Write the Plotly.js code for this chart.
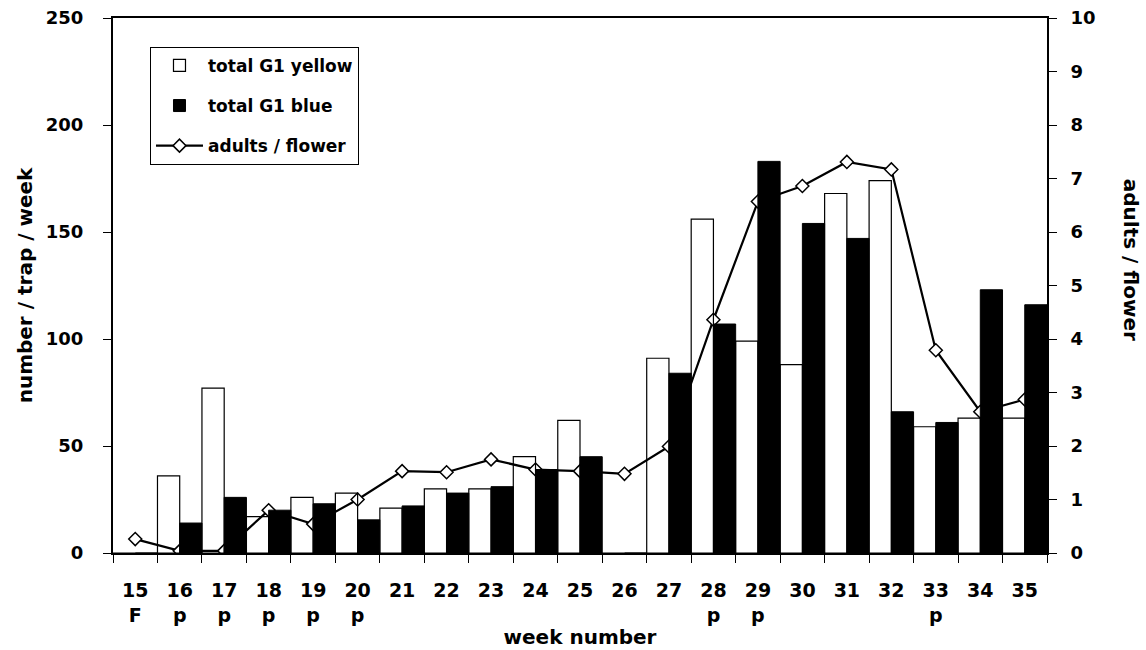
<!DOCTYPE html>
<html>
<head>
<meta charset="utf-8">
<script src="https://cdn.plot.ly/plotly-3.0.1.min.js"></script>
<style>
  html, body { margin: 0; padding: 0; background: #fff; }
  #chart { width: 1146px; height: 650px; }
</style>
</head>
<body>
<div id="chart"></div>
<script>
const weeks = ['15','16','17','18','19','20','21','22','23','24','25','26','27','28','29','30','31','32','33','34','35'];
const weekNotes = ['F','p','p','p','p','p','','','','','','','','p','p','','','','p','',''];
const totalG1Yellow = [0,36,77,17,26,28,21,30,30,45,62,0,91,156,99,88,168,174,59,63,63];
const totalG1Blue = [0,14,26,20,23,15.5,22,28,31,39,45,0,84,107,183,154,147,66,61,123,116];
const adultsPerFlower = [0.26,0.04,0.04,0.80,0.54,1.0,1.53,1.51,1.75,1.56,1.53,1.48,1.99,4.36,6.57,6.86,7.31,7.17,3.79,2.64,2.87];

const cats = weeks.map((w, i) => weekNotes[i] ? w + '<br>' + weekNotes[i] : w);
const FONT = 'DejaVu Sans, Liberation Sans, Arial, sans-serif';

const data = [
  {
    type: 'bar', name: 'total G1 yellow', x: cats, y: totalG1Yellow, yaxis: 'y2',
    marker: { color: 'rgba(255,255,255,0)', line: { color: '#000', width: 1.2 } },
    legendgroup: 'a'
  },
  {
    type: 'bar', name: 'total G1 blue', x: cats, y: totalG1Blue, yaxis: 'y2',
    marker: { color: '#000', line: { color: '#000', width: 1 } },
    legendgroup: 'b'
  },
  {
    type: 'scatter', mode: 'lines+markers', name: 'adults / flower', x: cats, y: adultsPerFlower, yaxis: 'y',
    line: { color: '#000', width: 2.2 },
    marker: { symbol: 'diamond', size: 10, color: '#fff', line: { color: '#000', width: 1.5 } },
    legendgroup: 'c'
  }
];

const layout = {
  width: 1146, height: 650,
  margin: { l: 113, r: 99, t: 18, b: 97 },
  paper_bgcolor: '#fff', plot_bgcolor: '#fff',
  font: { family: FONT, color: '#000', size: 18, weight: 'bold' },
  barmode: 'group', bargap: 0, bargroupgap: 0,
  showlegend: true,
  legend: {
    x: 0.0396, y: 0.946, xanchor: 'left', yanchor: 'top',
    bgcolor: '#fff', bordercolor: '#000', borderwidth: 1,
    font: { family: FONT, size: 17, weight: 'bold', color: '#000' },
    traceorder: 'grouped', tracegroupgap: 15, itemwidth: 47
  },
  xaxis: {
    type: 'category', tickson: 'boundaries', range: [-0.5, 20.5], autorange: false,
    showline: true, linecolor: '#000', linewidth: 2, mirror: true,
    ticks: 'outside', ticklen: 8, tickcolor: '#000', tickwidth: 1,
    showgrid: false, zeroline: false, ticklabelstandoff: 19,
    tickfont: { family: FONT, size: 19, weight: 'bold' },
    title: { text: 'week number', font: { family: FONT, size: 20, weight: 'bold' }, standoff: 5 }
  },
  yaxis: {
    side: 'right', range: [0, 10], dtick: 1,
    showline: true, linecolor: '#000', linewidth: 2,
    ticks: 'outside', ticklen: 8, tickcolor: '#000', tickwidth: 1,
    showgrid: false, zeroline: false, ticklabelstandoff: 10,
    tickfont: { family: FONT, size: 18, weight: 'bold' }
  },
  yaxis2: {
    overlaying: 'y', side: 'left', range: [0, 250], dtick: 50,
    showline: true, linecolor: '#000', linewidth: 2,
    ticks: 'outside', ticklen: 8, tickcolor: '#000', tickwidth: 1,
    showgrid: false, zeroline: false, ticklabelstandoff: 16,
    tickfont: { family: FONT, size: 18, weight: 'bold' },
    title: { text: 'number / trap / week', font: { family: FONT, size: 20, weight: 'bold' }, standoff: 8 }
  },
  annotations: [
    {
      text: 'adults / flower', textangle: 90, showarrow: false,
      xref: 'paper', yref: 'paper', x: 1.09, y: 0.548, xanchor: 'center', yanchor: 'middle',
      font: { family: FONT, size: 20, weight: 'bold', color: '#000' }
    }
  ]
};

Plotly.newPlot('chart', data, layout, { displayModeBar: false, staticPlot: true });
</script>
</body>
</html>
